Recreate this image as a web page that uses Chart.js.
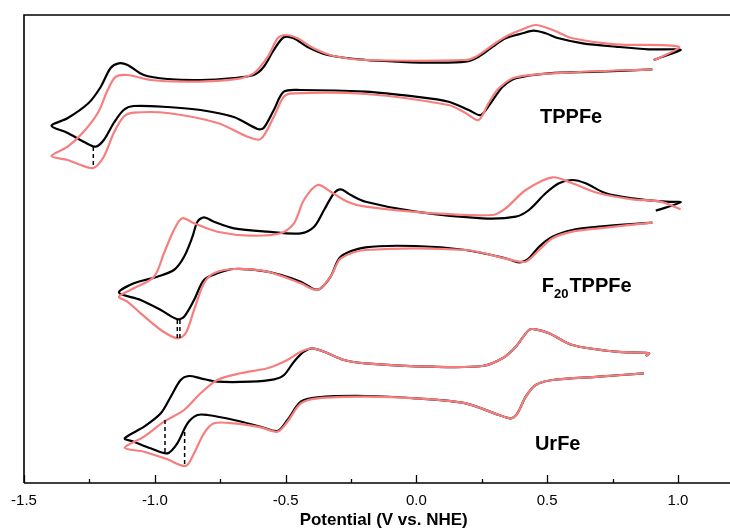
<!DOCTYPE html>
<html>
<head>
<meta charset="utf-8">
<script src="https://cdn.jsdelivr.net/npm/chart.js@4.4.0/dist/chart.umd.min.js"></script>
<style>
  html, body { margin: 0; padding: 0; background: #fff; overflow: hidden; }
  #wrap { width: 750px; height: 531px; }
</style>
</head>
<body>
<div id="wrap"><canvas id="cv" width="750" height="531"></canvas></div>
<script>
// potential (V vs. NHE), current (a.u.)
const tppfeBlack = [
  [0.902, 413.7], [0.698, 411.3], [0.506, 409.7], [0.380, 404.7], [0.330, 396.3], [0.292, 383], [0.246, 368],
  [0.200, 373], [0.123, 381.3], [-0.003, 386.3], [-0.194, 391.3], [-0.442, 393], [-0.507, 391.3], [-0.545, 373],
  [-0.584, 355], [-0.607, 354], [-0.698, 366], [-0.825, 373], [-0.951, 376], [-1.081, 377], [-1.119, 373],
  [-1.157, 360], [-1.195, 343], [-1.226, 336.3], [-1.272, 341.3], [-1.333, 350], [-1.395, 357.3],
  [-1.334, 364.7], [-1.253, 380], [-1.207, 396], [-1.169, 415], [-1.138, 419.7], [-1.104, 418], [-1.042, 408],
  [-0.951, 404], [-0.825, 403], [-0.698, 405], [-0.622, 408], [-0.584, 416], [-0.545, 433], [-0.507, 445.7],
  [-0.469, 444.7], [-0.416, 436], [-0.339, 428], [-0.194, 423], [-0.068, 421.3], [0.062, 420.3], [0.188, 421.3],
  [0.238, 426.3], [0.292, 436.3], [0.341, 444.7], [0.406, 449.7], [0.448, 452.3], [0.494, 449.7], [0.544, 444.7],
  [0.636, 439.7], [0.762, 436.3], [0.888, 433.7], [0.991, 433.7], [1.010, 433], [0.907, 423]
];
const tppfeRed = [
  [0.902, 413.7], [0.571, 410.3], [0.380, 405.7], [0.315, 394.7], [0.276, 380], [0.238, 363], [0.188, 370],
  [0.123, 378], [-0.194, 389], [-0.469, 389.7], [-0.507, 386.3], [-0.545, 366.3], [-0.595, 344], [-0.645, 346.3],
  [-0.760, 360], [-0.951, 370], [-1.081, 370.3], [-1.119, 366.3], [-1.157, 350], [-1.195, 326.3], [-1.235, 315],
  [-1.283, 318], [-1.333, 323], [-1.395, 327],
  [-1.333, 336.3], [-1.272, 351.3], [-1.218, 370], [-1.180, 393], [-1.149, 406.3], [-1.104, 408], [-1.016, 403],
  [-0.890, 401.3], [-0.698, 403.7], [-0.622, 409.7], [-0.568, 426.3], [-0.530, 444.7], [-0.500, 448],
  [-0.454, 444.7], [-0.393, 434.7], [-0.316, 427], [-0.194, 423], [0.188, 423], [0.227, 426.3], [0.292, 438],
  [0.341, 446.3], [0.406, 453.7], [0.456, 458], [0.521, 453], [0.597, 444.7], [0.762, 438.7], [1.003, 436.3],
  [0.926, 424.7], [0.907, 423]
];
const f20Black = [
  [0.902, 260.3], [0.698, 256.3], [0.596, 253], [0.520, 246.3], [0.469, 236.3], [0.430, 224.7], [0.392, 220.7],
  [0.341, 224.7], [0.188, 233], [-0.003, 237], [-0.194, 235.7], [-0.289, 226.3], [-0.328, 206.3], [-0.366, 194.7],
  [-0.391, 193.7], [-0.442, 201.3], [-0.570, 211.3], [-0.697, 214], [-0.761, 209.7], [-0.812, 203], [-0.850, 183],
  [-0.888, 166.3], [-0.914, 163.7], [-0.977, 173], [-1.054, 183], [-1.137, 190.3],
  [-1.080, 199.7], [-0.990, 206.3], [-0.927, 213], [-0.888, 226.3], [-0.856, 246.3], [-0.837, 261.3],
  [-0.812, 265.7], [-0.774, 261.3], [-0.697, 254.7], [-0.570, 251.3], [-0.442, 249.7], [-0.391, 256.3],
  [-0.353, 273], [-0.315, 289.7], [-0.289, 293.7], [-0.251, 288], [-0.194, 281.3], [-0.003, 271.3],
  [0.252, 264.7], [0.380, 266.3], [0.430, 273], [0.494, 289.7], [0.545, 299.7], [0.596, 303], [0.647, 299.7],
  [0.724, 289.7], [0.826, 284.7], [0.953, 281.3], [1.010, 280.7], [0.915, 272.3]
];
const f20Red = [
  [0.902, 260.3], [0.698, 254.7], [0.596, 251.3], [0.520, 244.7], [0.469, 233], [0.418, 221.3], [0.354, 223.7],
  [0.188, 233], [-0.194, 233], [-0.289, 224.7], [-0.328, 206.3], [-0.378, 193], [-0.442, 199.7], [-0.570, 211.3],
  [-0.697, 214], [-0.774, 209.7], [-0.812, 199.7], [-0.850, 173], [-0.882, 149.7], [-0.914, 144.7],
  [-0.977, 153], [-1.054, 169.7], [-1.105, 181.3], [-1.137, 186.3],
  [-1.080, 194.7], [-1.003, 206.3], [-0.965, 229.7], [-0.927, 253], [-0.895, 264.7], [-0.850, 259.7],
  [-0.761, 251.3], [-0.633, 247.3], [-0.519, 249.7], [-0.468, 259.7], [-0.430, 283], [-0.378, 298],
  [-0.328, 291.3], [-0.264, 281.3], [-0.194, 276.3], [0.061, 269.7], [0.291, 268], [0.341, 274.7],
  [0.418, 293], [0.520, 305.7], [0.596, 299.7], [0.698, 289.7], [0.826, 283.7], [0.934, 281.3], [1.010, 273.7]
];
const urBlack = [
  [0.870, 109.7], [0.698, 106.3], [0.520, 103], [0.456, 98], [0.418, 86.3], [0.386, 69.7], [0.360, 64.7],
  [0.316, 68], [0.188, 79.7], [-0.003, 84.7], [-0.194, 87], [-0.378, 85.7], [-0.442, 81.3], [-0.493, 63],
  [-0.531, 52], [-0.595, 56.3], [-0.697, 63], [-0.799, 68], [-0.837, 68], [-0.875, 59.7], [-0.914, 39.7],
  [-0.952, 29.7], [-1.016, 34.7], [-1.080, 41.3], [-1.115, 44.7],
  [-1.041, 56.3], [-0.977, 69.7], [-0.939, 86.3], [-0.901, 103], [-0.869, 107], [-0.825, 104.7],
  [-0.761, 101.3], [-0.633, 101.3], [-0.544, 103.7], [-0.506, 108], [-0.468, 121.3], [-0.430, 131.3],
  [-0.398, 134.7], [-0.353, 131.3], [-0.277, 123], [-0.194, 119.7], [0.061, 116.3], [0.252, 117],
  [0.329, 124.7], [0.380, 136.3], [0.430, 153], [0.456, 153.7], [0.507, 149.7], [0.596, 138], [0.762, 131.3],
  [0.889, 129.7], [0.877, 127]
];
const urRed = [
  [0.870, 109.7], [0.698, 106.3], [0.520, 103], [0.456, 98], [0.418, 86.3], [0.386, 69.7], [0.360, 64.7],
  [0.316, 68], [0.188, 79.7], [-0.003, 84.7], [-0.194, 86.3], [-0.378, 84.7], [-0.442, 79.7], [-0.493, 61.3],
  [-0.531, 51.3], [-0.595, 55.7], [-0.697, 59.7], [-0.774, 59.7], [-0.812, 49.7], [-0.850, 29.7], [-0.882, 17],
  [-0.952, 23.7], [-1.041, 31.3], [-1.115, 35.3],
  [-1.041, 46.3], [-0.965, 61.3], [-0.888, 73], [-0.825, 89.7], [-0.761, 103], [-0.672, 109.7],
  [-0.570, 114.7], [-0.493, 123], [-0.442, 131.3], [-0.398, 134.7], [-0.353, 131.3], [-0.277, 123],
  [-0.194, 119.7], [0.061, 116.3], [0.252, 117], [0.329, 124.7], [0.380, 136.3], [0.430, 153], [0.456, 153.7],
  [0.507, 149.7], [0.596, 138], [0.762, 131.3], [0.889, 129.7], [0.877, 127]
];
// vertical dashed markers at the cathodic peaks: [E, i_top, i_bottom]
const peakMarks = [
  [-1.235, 336, 315],
  [-0.914, 163, 145],
  [-0.904, 163, 145],
  [-0.961, 63, 30],
  [-0.886, 51, 18]
];
const xTicks = [-1.5, -1.0, -0.5, 0.0, 0.5, 1.0];
const minorTicks = [-1.25, -0.75, -0.25, 0.25, 0.75];
const compounds = ["TPPFe", "F20TPPFe", "UrFe"];
const compoundPos = [[0.4725, 360.3], [0.479, 191.3], [0.453, 33]];

const BLACK = "#000000";
const RED = "#f77e7e";
const FONT = "Arial, 'Liberation Sans', sans-serif";

const toXY = (arr) => arr.map(([x, y]) => ({ x, y }));

const curve = (data, color, order) => ({
  data: toXY(data),
  showLine: true,
  borderColor: color,
  borderWidth: 2.2,
  pointRadius: 0,
  tension: 0.3,
  fill: false,
  order,
});

const datasets = [
  curve(tppfeBlack, BLACK, 3),
  curve(f20Black, BLACK, 3),
  curve(urBlack, BLACK, 3),
  curve(tppfeRed, RED, 2),
  curve(f20Red, RED, 2),
  curve(urRed, RED, 2),
];
peakMarks.forEach(([e, top, bot]) => {
  datasets.push({
    data: [{ x: e, y: top }, { x: e, y: bot }],
    showLine: true,
    borderColor: BLACK,
    borderWidth: 1.5,
    borderDash: [4, 3],
    pointRadius: 0,
    order: 1,
  });
});

// 框線、內向刻度、化合物名稱
const framePlugin = {
  id: "frame",
  afterDraw(chart) {
    const { ctx, chartArea: a, scales } = chart;
    const xs = scales.x;
    ctx.save();
    ctx.strokeStyle = "#000";
    ctx.lineWidth = 1.6;
    ctx.beginPath();
    ctx.moveTo(a.left, a.bottom);
    ctx.lineTo(a.left, a.top);
    ctx.lineTo(a.right + 5, a.top);
    ctx.moveTo(a.left, a.bottom);
    ctx.lineTo(a.right + 5, a.bottom);
    ctx.stroke();

    ctx.lineWidth = 1.3;
    ctx.beginPath();
    xTicks.forEach((v) => {
      const px = Math.round(xs.getPixelForValue(v)) + 0.5;
      ctx.moveTo(px, a.bottom);
      ctx.lineTo(px, a.bottom - 8);
    });
    minorTicks.forEach((v) => {
      const px = Math.round(xs.getPixelForValue(v)) + 0.5;
      ctx.moveTo(px, a.bottom);
      ctx.lineTo(px, a.bottom - 4);
    });
    ctx.stroke();

    const ys = scales.y;
    ctx.fillStyle = "#000";
    ctx.textBaseline = "alphabetic";
    ctx.textAlign = "left";
    compounds.forEach((name, i) => {
      let px = xs.getPixelForValue(compoundPos[i][0]);
      const py = ys.getPixelForValue(compoundPos[i][1]);
      const m = name.match(/^([A-Z])(\d+)(.*)$/);
      if (m) {
        ctx.font = "bold 20px " + FONT;
        ctx.fillText(m[1], px, py);
        px += ctx.measureText(m[1]).width;
        ctx.font = "bold 13px " + FONT;
        ctx.fillText(m[2], px, py + 6);
        px += ctx.measureText(m[2]).width + 1;
        ctx.font = "bold 20px " + FONT;
        ctx.fillText(m[3], px, py);
      } else {
        ctx.font = "bold 20px " + FONT;
        ctx.fillText(name, px, py);
      }
    });
    ctx.restore();
  },
};

new Chart(document.getElementById("cv"), {
  type: "scatter",
  data: { datasets },
  options: {
    responsive: false,
    animation: false,
    devicePixelRatio: 1,
    layout: { padding: { left: 24, top: 15, right: 6.6, bottom: 0 } },
    plugins: { legend: { display: false }, tooltip: { enabled: false } },
    scales: {
      x: {
        type: "linear",
        min: -1.5,
        max: 1.25,
        afterBuildTicks: (scale) => {
          scale.ticks = xTicks.map((v) => ({ value: v }));
        },
        afterFit: (scale) => {
          scale.height = 48;
        },
        grid: { display: false, drawTicks: false },
        border: { display: false },
        ticks: {
          padding: 9,
          color: "#000",
          maxRotation: 0,
          autoSkip: false,
          font: { family: FONT, size: 15 },
          callback: (v) => Number(v).toFixed(1),
        },
        title: {
          display: true,
          text: "Potential (V vs. NHE)",
          color: "#000",
          padding: { top: 0, bottom: 0 },
          font: { family: FONT, size: 17, weight: "bold" },
        },
      },
      y: {
        display: false,
        min: 0,
        max: 468,
      },
    },
  },
  plugins: [framePlugin],
});
</script>
</body>
</html>
